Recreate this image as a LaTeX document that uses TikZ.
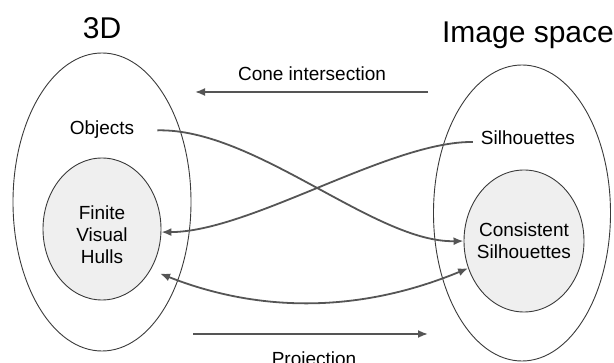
\documentclass[tikz,border=0pt]{standalone}
\usepackage{fontspec}
\setmainfont{Liberation Sans}
\usetikzlibrary{shapes.geometric,arrows.meta}
\definecolor{linegray}{HTML}{555555}
\definecolor{edgegray}{HTML}{3A3A3A}
\definecolor{fillgray}{HTML}{EFEFEF}
\begin{document}
\begin{tikzpicture}[x=1pt,y=-1pt,
  outerset/.style={draw=edgegray,line width=0.9pt,ellipse,inner sep=0pt},
  innerset/.style={draw=edgegray,line width=0.9pt,ellipse,fill=fillgray,inner sep=0pt},
  lbl/.style={font=\fontsize{19}{22}\selectfont,inner sep=0pt,anchor=base,align=center},
  ttl/.style={font=\fontsize{30}{36}\selectfont,inner sep=0pt,anchor=base},
  tip/.style={Latex[length=10pt,width=8pt]},
  conn/.style={draw=linegray,line width=1.8pt,-{Latex[length=10pt,width=8pt]}},
]
\useasboundingbox (0,0) rectangle (614,363);
% sets
\node[outerset,minimum width=178pt,minimum height=298pt] (left) at (102,202) {};
\node[innerset,minimum width=118pt,minimum height=142pt] (fvh) at (102,229) {};
\node[outerset,minimum width=177pt,minimum height=296pt] (right) at (522,213) {};
\node[innerset,minimum width=120pt,minimum height=142pt] (cs) at (524,241) {};
% texts
\node[ttl] (t3d) at (102,39) {3D};
\node[ttl] (timg) at (528,43) {Image space};
\node[lbl] (obj) at (102,135) {Objects};
\node[lbl] (sil) at (528,145) {Silhouettes};
\node[lbl,anchor=center] (fvht) at (102,235) {Finite\\Visual\\Hulls};
\node[lbl,anchor=center] (cst) at (524,241) {Consistent\\Silhouettes};
\node[lbl] (cone) at (312,81) {Cone intersection};
\node[lbl] (proj) at (314,366) {Projection};
% straight arrows
\coordinate (ca) at (428,92);
\coordinate (cb) at (195,92);
\coordinate (pa) at (193,334);
\coordinate (pb) at (428,334);
\draw[conn] (ca) -- (cb);
\draw[conn] (pa) -- (pb);
% curved arrows
\draw[conn] ([xshift=23pt,yshift=2pt]obj.mid east) .. controls (255,128) and (375,243) .. (cs.west);
\draw[conn] ([xshift=-8pt,yshift=3pt]sil.base west) .. controls (390,141) and (250,232) .. (fvh.-3);
\draw[conn,{Latex[length=10pt,width=8pt]}-{Latex[length=10pt,width=8pt]},shorten <=10pt]
  (fvh.-40) .. controls (260,313) and (360,313) .. (cs.206);
\end{tikzpicture}
\end{document}
